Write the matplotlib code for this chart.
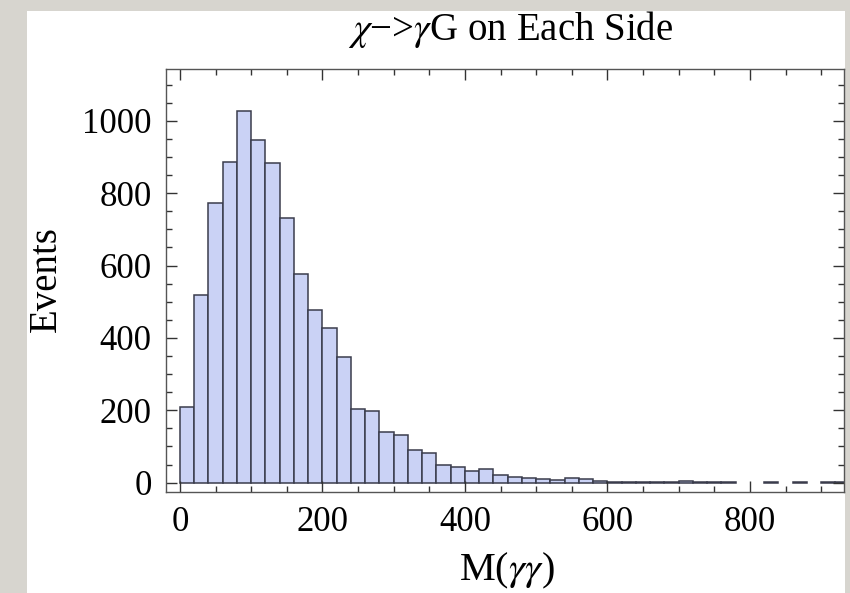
import matplotlib
matplotlib.use("Agg")
import matplotlib.pyplot as plt
from matplotlib.patches import Rectangle
from matplotlib.ticker import MultipleLocator

plt.rcParams['font.family'] = ['Liberation Serif', 'DejaVu Serif']
plt.rcParams['mathtext.fontset'] = 'stix'

# histogram of M(gamma gamma), 20 GeV bins starting at 0
bin_left = [0, 20, 40, 60, 80, 100, 120, 140, 160, 180,
            200, 220, 240, 260, 280, 300, 320, 340, 360, 380,
            400, 420, 440, 460, 480, 500, 520, 540, 560, 580,
            600, 620, 640, 660, 680, 700, 720, 740, 760, 780,
            800, 820, 840, 860, 880, 900, 920]
counts = [210, 518, 774, 887, 1027, 948, 884, 732, 577, 477,
          428, 346, 203, 197, 139, 131, 90, 81, 48, 42,
          33, 39, 22, 15, 14, 11, 7, 14, 9, 4,
          2, 3, 3, 3, 1, 5, 3, 2, 1, 0,
          0, 1, 0, 1, 0, 1, 1]
bin_width = 20

x_ticks = [0, 200, 400, 600, 800]
y_ticks = [0, 200, 400, 600, 800, 1000]

fig = plt.figure(figsize=(8.5, 5.93), dpi=100)
fig.patch.set_facecolor("#d7d5cf")
# white slide panel behind everything
fig.patches.append(Rectangle((27/850, 0), (845-27)/850, (593-11)/593,
                             transform=fig.transFigure, facecolor="white",
                             edgecolor="none", zorder=-5))

ax = fig.add_axes([165.7/850, 1-491.7/593, (844-165.7)/850, (491.7-69)/593])
ax.set_zorder(2)
ax.set_facecolor("white")

xs = [b for b, c in zip(bin_left, counts) if c > 0]
hs = [c for c in counts if c > 0]
ax.bar(xs, hs, width=bin_width, align="edge", color="#cad2f5",
       edgecolor="#3a3c4c", linewidth=1.1)

ax.set_xlim(-20, 932)
ax.set_ylim(-25, 1143)
ax.set_xticks(x_ticks)
ax.set_yticks(y_ticks)
ax.xaxis.set_minor_locator(MultipleLocator(50))
ax.yaxis.set_minor_locator(MultipleLocator(50))
ax.tick_params(which="both", direction="in", top=True, right=True,
               color="#333333", width=1.0, labelsize=25)
ax.tick_params(which="major", length=8)
ax.tick_params(which="minor", length=4.5)
ax.tick_params(axis="x", pad=10)
ax.tick_params(axis="y", pad=10)
for s in ax.spines.values():
    s.set_color("#555555")
    s.set_linewidth(1.0)

fig.text(511/850, 1-40/593, r"$\chi$" + "\u2212>" + r"$\gamma$G on Each Side",
         ha="center", va="baseline", fontsize=28)
fig.text(507/850, 1-580/593, r"M($\gamma\gamma$)", ha="center", va="baseline",
         fontsize=29)
fig.text(46/850, 1-279/593, "Events", rotation=90, ha="center", va="center",
         fontsize=28)

fig.savefig("out.png", dpi=100, facecolor=fig.get_facecolor())
